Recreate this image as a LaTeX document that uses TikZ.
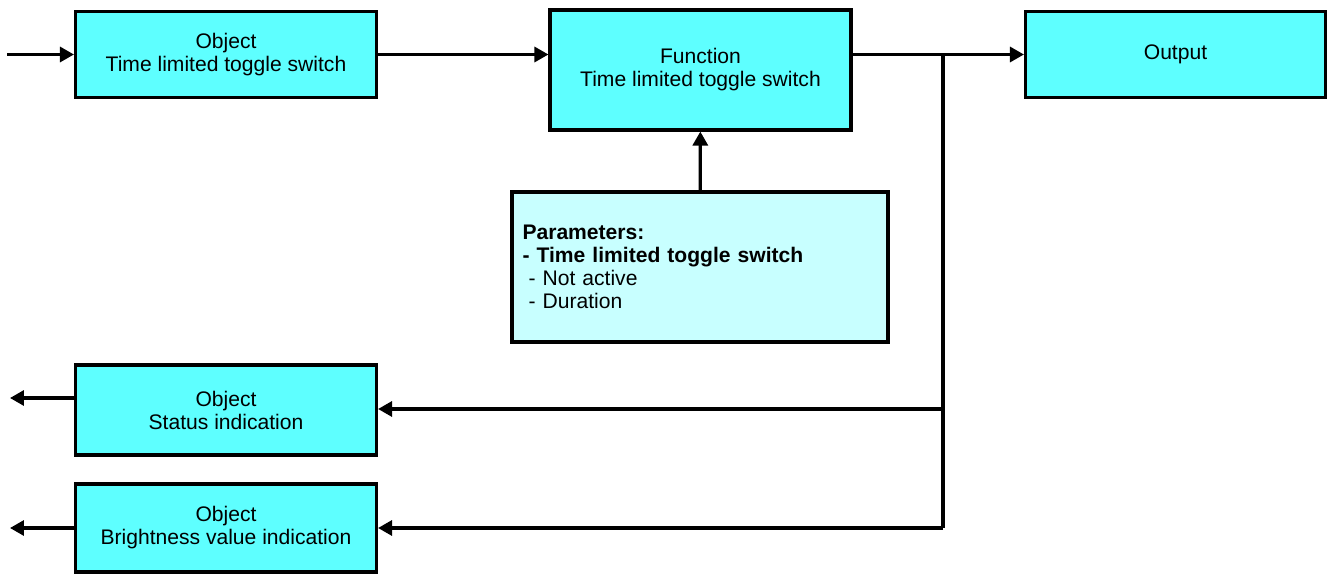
\documentclass[tikz,border=0pt]{standalone}
\usepackage{fontspec}
\setmainfont{Liberation Sans}
\usetikzlibrary{arrows.meta}
\definecolor{boxcyan}{RGB}{94,255,255}
\definecolor{parcyan}{RGB}{200,255,255}
\begin{document}
\begin{tikzpicture}[x=0.02cm, y=-0.02cm,
    block/.style={draw, line width=1.8pt, fill=boxcyan, align=center, inner sep=0pt,
        minimum width=6.02cm, minimum height=1.72cm, font=\fontsize{12}{13.1}\selectfont},
    conn/.style={line width=1.8pt},
    flow/.style={conn, -{Triangle[length=0.28cm, width=0.3cm]}}]
    \useasboundingbox (0,0) rectangle (1329,574);
    \node[block] (obj) at (226,54.5) {Object\\Time limited toggle switch};
    \node[block, minimum height=2.4cm] (func) at (700.5,70) {Function\\Time limited toggle switch};
    \node[block, minimum width=6.0cm] (out) at (1175.5,54.5) {Output};
    \node[block, fill=parcyan, align=left, minimum height=3.0cm, inner xsep=0.21cm, text width=7.10cm] (par) at (700,267)
        {\textbf{Parameters:}\\\textbf{- Time limited toggle switch}\\\hspace{0.12cm}- Not active\\\hspace{0.12cm}- Duration};
    \node[block, minimum height=1.8cm] (stat) at (226,410) {Object\\Status indication};
    \node[block, minimum height=1.76cm] (bright) at (226,528) {Object\\Brightness value indication};
    \coordinate (in) at (7,54.5);
    \coordinate (split) at (943,54.5);
    \coordinate (splitend) at (943,528);
    \coordinate (statout) at (10,398);
    \coordinate (brightout) at (10,528);
    \draw[flow] (in) -- (obj);
    \draw[flow] (obj.east) -- (obj.east -| func.west);
    \draw[flow] (out.west -| func.east) -- (out);
    \draw[conn] (split) -- (splitend);
    \draw[flow] (par) -- (func);
    \draw[flow] (split |- 0,409) -- (stat.east |- 0,409);
    \draw[flow] (splitend) -- (bright);
    \draw[flow] (stat.west |- statout) -- (statout);
    \draw[flow] (bright) -- (brightout);
\end{tikzpicture}
\end{document}
